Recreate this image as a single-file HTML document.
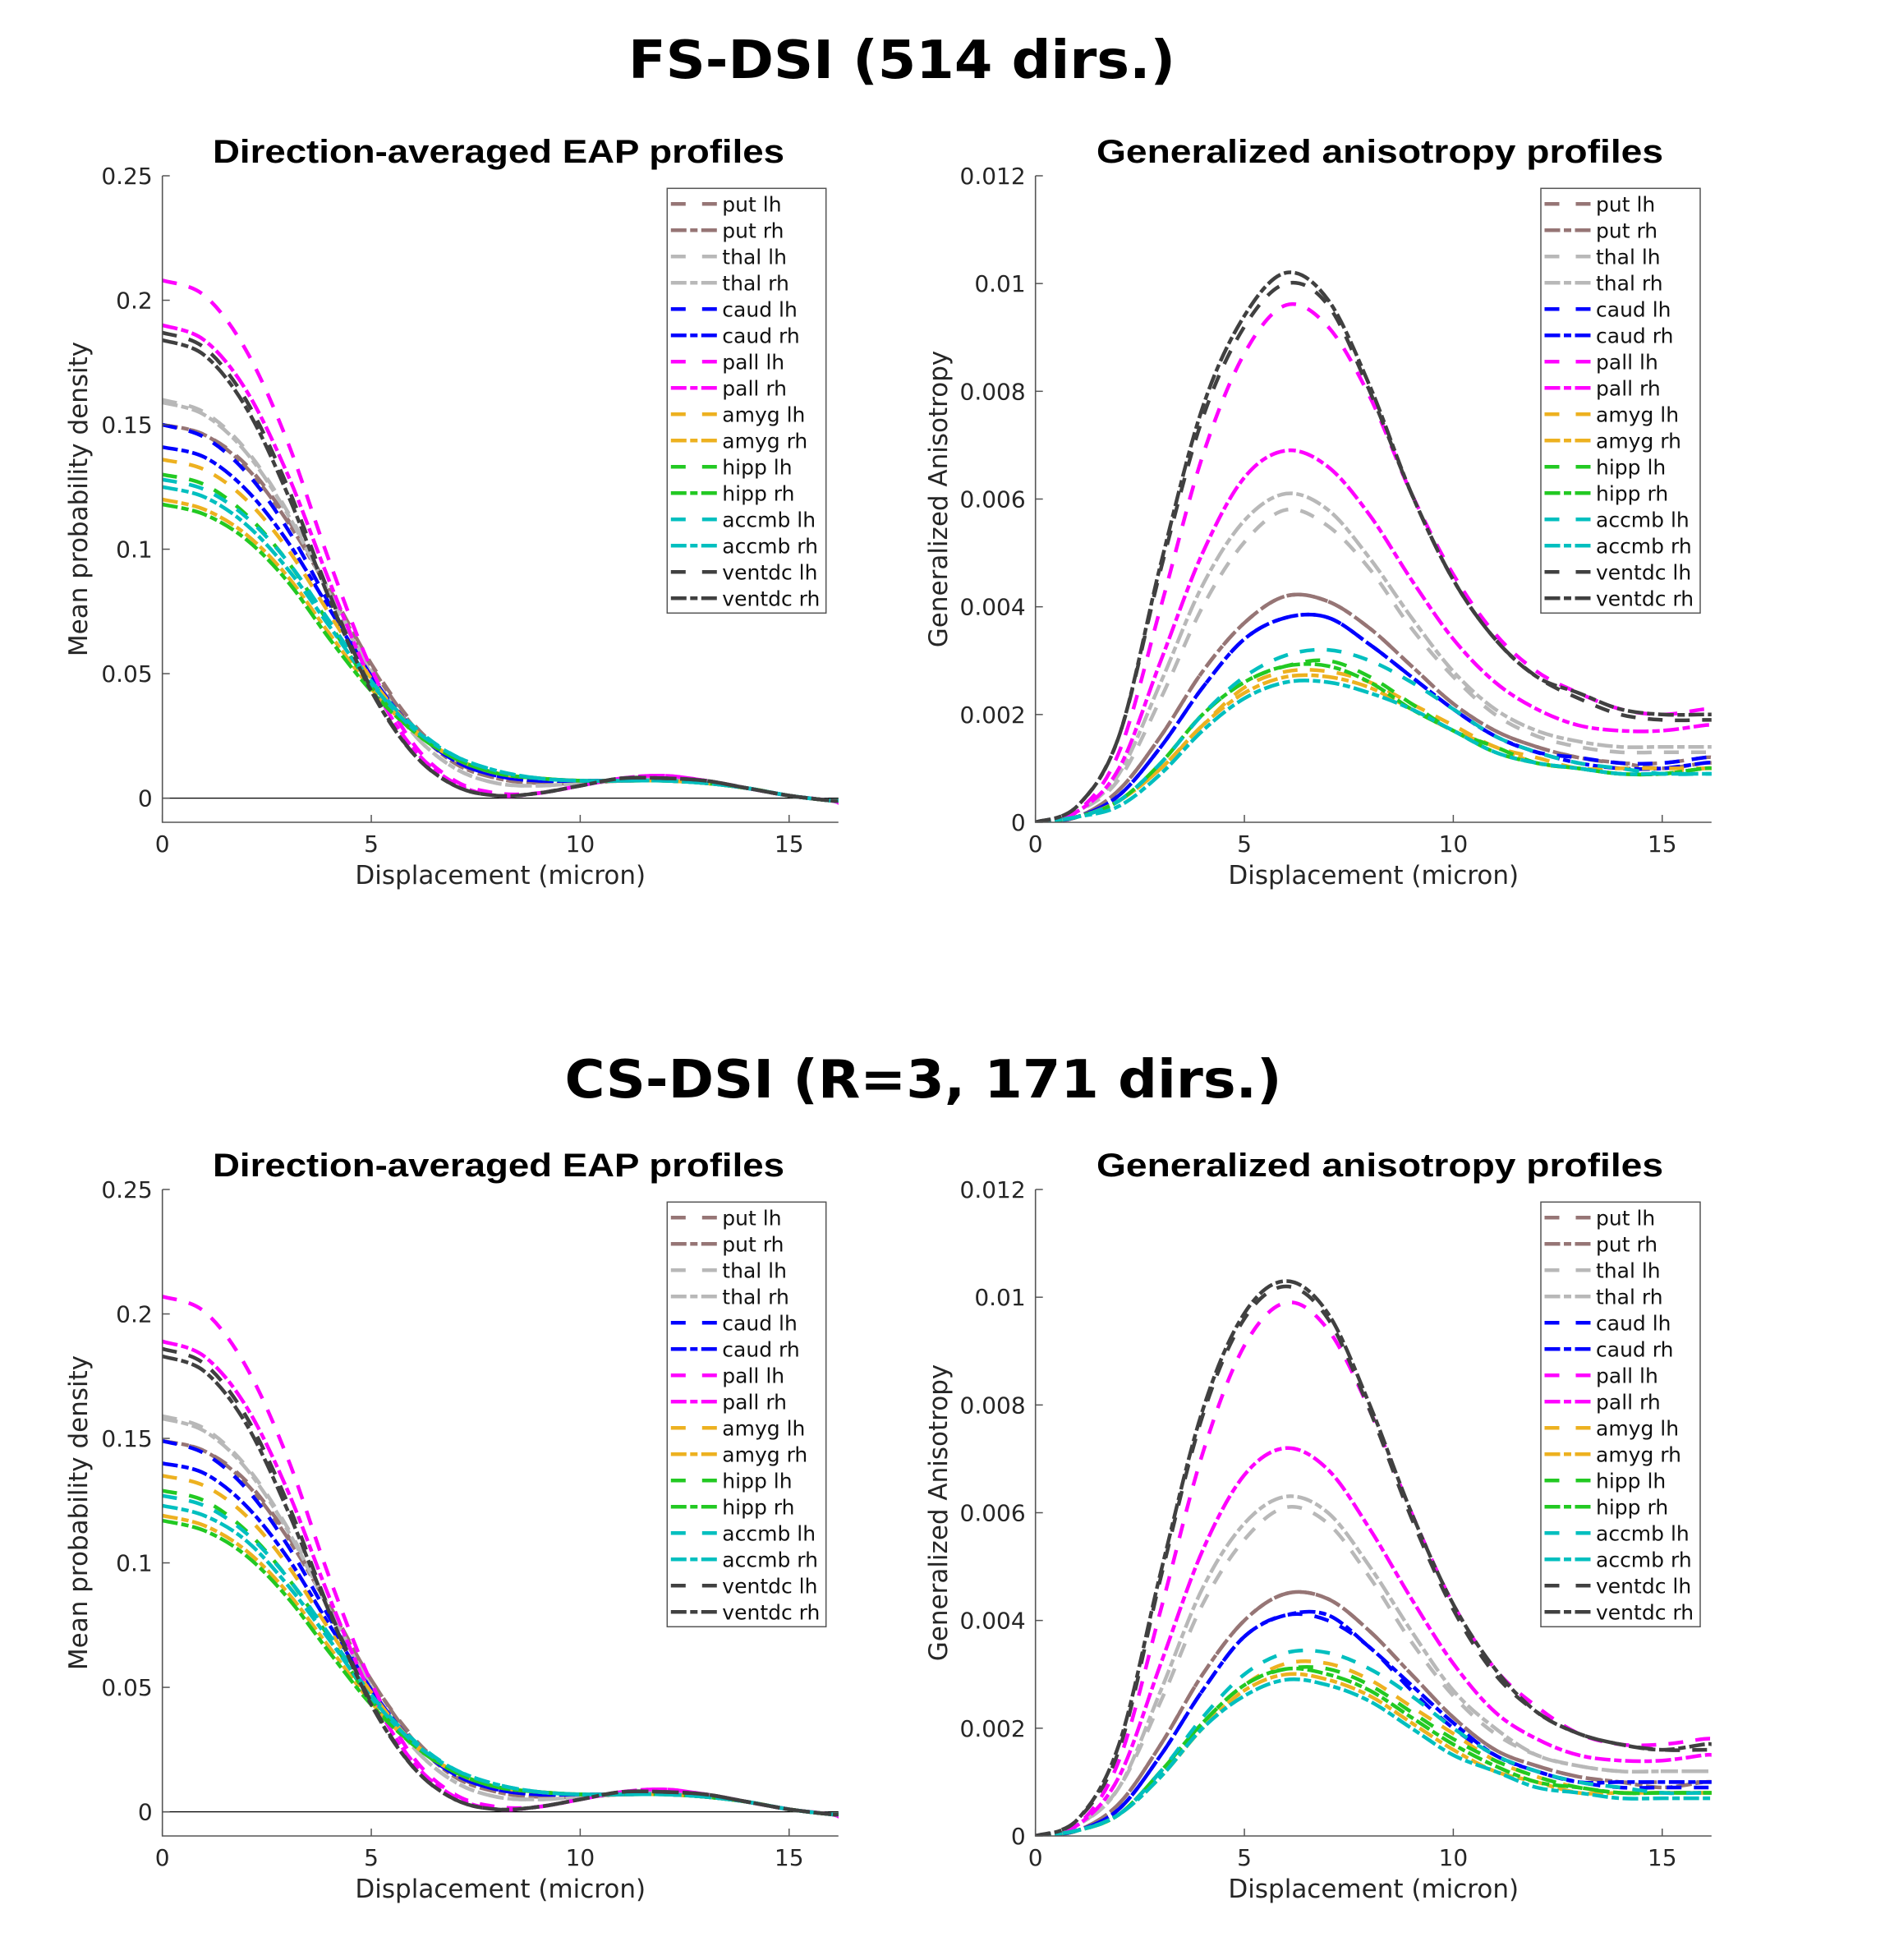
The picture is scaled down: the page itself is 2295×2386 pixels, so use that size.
<!DOCTYPE html>
<html><head><meta charset="utf-8"><style>
html,body{margin:0;padding:0;background:#fff;}
svg{display:block;}
text{font-family:"DejaVu Sans","Liberation Sans",sans-serif;}
</style></head><body>
<svg id="fig" width="2295" height="2386" viewBox="0 0 2295 2386" xmlns="http://www.w3.org/2000/svg">
<rect width="2295" height="2386" fill="#fff"/>
<text x="1098" y="95" text-anchor="middle" font-size="64" font-weight="bold" style="font-family:'DejaVu Sans',sans-serif" textLength="666" lengthAdjust="spacingAndGlyphs">FS-DSI (514 dirs.)</text>
<text x="1124" y="1336" text-anchor="middle" font-size="64" font-weight="bold" style="font-family:'DejaVu Sans',sans-serif" textLength="873" lengthAdjust="spacingAndGlyphs">CS-DSI (R=3, 171 dirs.)</text>
</svg>
<script>
const xs = [0,1,2,3,4,5,6,7,8,9,10,11,12,13,14,15,16,16.2];
const seriesNames = ["put lh","put rh","thal lh","thal rh","caud lh","caud rh","pall lh","pall rh","amyg lh","amyg rh","hipp lh","hipp rh","accmb lh","accmb rh","ventdc lh","ventdc rh"];
const eapTicksY = [0,0.05,0.1,0.15,0.2,0.25];
const eapTickLabels = ["0","0.05","0.1","0.15","0.2","0.25"];
const gaTicksY = [0,0.002,0.004,0.006,0.008,0.01,0.012];
const gaTickLabels = ["0","0.002","0.004","0.006","0.008","0.01","0.012"];
const xTicks = [0,5,10,15];
const xTickLabels = ["0","5","10","15"];

const eapTop = [
[.150,.146,.134,.112,.084,.054,.030,.015,.008,.006,.006,.007,.008,.007,.004,.001,-.001,-.001],
[.150,.146,.133,.111,.083,.053,.029,.014,.008,.006,.006,.007,.008,.007,.004,.001,-.001,-.001],
[.160,.155,.140,.115,.083,.051,.026,.012,.006,.005,.006,.007,.008,.007,.004,.001,-.001,-.001],
[.159,.154,.139,.114,.082,.050,.026,.012,.006,.005,.006,.007,.008,.007,.004,.001,-.001,-.001],
[.150,.145,.131,.108,.078,.049,.028,.015,.009,.007,.007,.007,.007,.006,.004,.001,-.001,-.001],
[.141,.137,.124,.103,.076,.049,.028,.015,.009,.007,.007,.007,.007,.006,.004,.001,-.001,-.001],
[.208,.202,.180,.143,.095,.052,.022,.007,.002,.002,.005,.008,.009,.007,.004,.001,-.001,-.002],
[.190,.184,.164,.130,.087,.047,.020,.006,.001,.002,.005,.008,.009,.007,.004,.001,-.001,-.002],
[.136,.132,.120,.100,.074,.048,.028,.016,.010,.008,.007,.007,.007,.006,.004,.001,-.001,-.001],
[.120,.116,.106,.089,.066,.044,.027,.016,.010,.008,.007,.007,.007,.006,.004,.001,-.001,-.001],
[.130,.126,.114,.095,.070,.045,.027,.016,.010,.008,.007,.007,.007,.006,.004,.001,-.001,-.001],
[.118,.114,.104,.087,.064,.043,.027,.016,.010,.008,.007,.007,.007,.006,.004,.001,-.001,-.001],
[.128,.124,.113,.095,.071,.047,.029,.017,.011,.008,.007,.007,.007,.006,.004,.001,-.001,-.001],
[.125,.121,.110,.092,.069,.046,.028,.017,.011,.008,.007,.007,.007,.006,.004,.001,-.001,-.001],
[.187,.181,.160,.125,.082,.044,.018,.005,.001,.002,.005,.008,.008,.007,.004,.001,-.001,-.001],
[.184,.178,.157,.122,.080,.043,.018,.005,.001,.002,.005,.008,.008,.007,.004,.001,-.001,-.001]
];
const eapBottom = [
[.149,.145,.133,.111,.083,.053,.030,.015,.008,.006,.006,.007,.008,.007,.004,.001,-.001,-.001],
[.149,.145,.132,.110,.082,.053,.029,.014,.008,.006,.006,.007,.008,.007,.004,.001,-.001,-.001],
[.159,.154,.139,.114,.082,.050,.026,.012,.006,.005,.006,.007,.008,.007,.004,.001,-.001,-.001],
[.158,.153,.138,.113,.081,.050,.026,.012,.006,.005,.006,.007,.008,.007,.004,.001,-.001,-.001],
[.149,.144,.130,.107,.078,.049,.028,.015,.009,.007,.007,.007,.007,.006,.004,.001,-.001,-.001],
[.140,.136,.123,.102,.075,.049,.028,.015,.009,.007,.007,.007,.007,.006,.004,.001,-.001,-.001],
[.207,.201,.179,.142,.094,.052,.022,.007,.002,.002,.005,.008,.009,.007,.004,.001,-.001,-.002],
[.189,.183,.163,.129,.086,.047,.020,.006,.001,.002,.005,.008,.009,.007,.004,.001,-.001,-.002],
[.135,.131,.119,.099,.073,.048,.028,.016,.010,.008,.007,.007,.007,.006,.004,.001,-.001,-.001],
[.119,.115,.105,.088,.066,.044,.027,.016,.010,.008,.007,.007,.007,.006,.004,.001,-.001,-.001],
[.129,.125,.113,.094,.070,.045,.027,.016,.010,.008,.007,.007,.007,.006,.004,.001,-.001,-.001],
[.117,.113,.103,.086,.064,.043,.027,.016,.010,.008,.007,.007,.007,.006,.004,.001,-.001,-.001],
[.127,.123,.112,.094,.071,.047,.029,.017,.011,.008,.007,.007,.007,.006,.004,.001,-.001,-.001],
[.123,.119,.109,.091,.069,.046,.028,.017,.011,.008,.007,.007,.007,.006,.004,.001,-.001,-.001],
[.186,.180,.159,.124,.081,.044,.018,.005,.001,.002,.005,.008,.008,.007,.004,.001,-.001,-.001],
[.183,.177,.156,.121,.080,.043,.018,.005,.001,.002,.005,.008,.008,.007,.004,.001,-.001,-.001]
];
const gaTop = [
[0,.0001,.0006,.0016,.0028,.0037,.0042,.0041,.0036,.0029,.0022,.0017,.0014,.0012,.0011,.0011,.0012,.0012],
[0,.0001,.0006,.0016,.0028,.0037,.0042,.0041,.0036,.0029,.0022,.0017,.0014,.0012,.0011,.0010,.0011,.0011],
[0,.0002,.0008,.0023,.0040,.0052,.0058,.0055,.0047,.0036,.0027,.0020,.0016,.0014,.0013,.0013,.0013,.0013],
[0,.0002,.0009,.0026,.0044,.0056,.0061,.0058,.0049,.0038,.0028,.0021,.0017,.0015,.0014,.0014,.0014,.0014],
[0,.0001,.0005,.0014,.0025,.0034,.0038,.0038,.0033,.0027,.0021,.0016,.0013,.0012,.0011,.0011,.0012,.0012],
[0,.0001,.0005,.0014,.0025,.0034,.0038,.0038,.0033,.0027,.0021,.0016,.0013,.0011,.0010,.0010,.0011,.0011],
[0,.0002,.0013,.0040,.0068,.0087,.0096,.0092,.0079,.0061,.0046,.0035,.0028,.0024,.0021,.0020,.0021,.0021],
[0,.0002,.0010,.0030,.0050,.0064,.0069,.0066,.0057,.0045,.0034,.0026,.0021,.0018,.0017,.0017,.0018,.0018],
[0,.0001,.0004,.0010,.0018,.0025,.0028,.0028,.0026,.0022,.0018,.0014,.0012,.0010,.0010,.0010,.0010,.0010],
[0,.0001,.0004,.0010,.0018,.0024,.0027,.0027,.0025,.0021,.0017,.0014,.0011,.0010,.0009,.0009,.0010,.0010],
[0,.0001,.0004,.0011,.0020,.0026,.0029,.0030,.0027,.0022,.0017,.0014,.0011,.0010,.0009,.0009,.0010,.0010],
[0,.0001,.0004,.0011,.0020,.0026,.0029,.0029,.0026,.0021,.0017,.0013,.0011,.0010,.0009,.0009,.0010,.0010],
[0,.0001,.0004,.0011,.0020,.0027,.0031,.0032,.0030,.0026,.0021,.0016,.0013,.0011,.0010,.0009,.0009,.0009],
[0,.0001,.0003,.0009,.0017,.0023,.0026,.0026,.0024,.0021,.0017,.0013,.0011,.0010,.0009,.0009,.0009,.0009],
[0,.0003,.0016,.0047,.0075,.0092,.0100,.0096,.0080,.0061,.0045,.0034,.0027,.0023,.0020,.0019,.0019,.0019],
[0,.0003,.0016,.0048,.0077,.0094,.0102,.0097,.0081,.0061,.0045,.0034,.0027,.0024,.0021,.0020,.0020,.0020]
];
const gaBottom = [
[0,.0001,.0006,.0017,.0030,.0040,.0045,.0044,.0038,.0030,.0022,.0016,.0013,.0011,.0010,.0010,.0010,.0010],
[0,.0001,.0006,.0017,.0030,.0040,.0045,.0044,.0038,.0030,.0022,.0016,.0013,.0011,.0010,.0009,.0010,.0010],
[0,.0002,.0009,.0025,.0043,.0055,.0061,.0058,.0048,.0036,.0026,.0019,.0015,.0013,.0012,.0012,.0012,.0012],
[0,.0002,.0009,.0027,.0046,.0058,.0063,.0060,.0050,.0038,.0027,.0020,.0015,.0013,.0012,.0012,.0012,.0012],
[0,.0001,.0005,.0015,.0027,.0037,.0041,.0040,.0035,.0027,.0020,.0015,.0012,.0010,.0009,.0009,.0009,.0009],
[0,.0001,.0005,.0015,.0027,.0037,.0041,.0041,.0035,.0028,.0021,.0015,.0012,.0010,.0010,.0010,.0010,.0010],
[0,.0002,.0014,.0042,.0071,.0091,.0099,.0094,.0079,.0060,.0043,.0031,.0024,.0019,.0017,.0017,.0018,.0018],
[0,.0002,.0011,.0032,.0053,.0067,.0072,.0068,.0057,.0044,.0032,.0023,.0018,.0015,.0014,.0014,.0015,.0015],
[0,.0001,.0004,.0012,.0021,.0028,.0032,.0032,.0029,.0024,.0019,.0014,.0011,.0009,.0008,.0008,.0008,.0008],
[0,.0001,.0004,.0011,.0020,.0027,.0030,.0029,.0026,.0021,.0016,.0012,.0010,.0008,.0008,.0008,.0008,.0008],
[0,.0001,.0004,.0012,.0021,.0028,.0031,.0031,.0028,.0023,.0018,.0014,.0011,.0009,.0008,.0008,.0008,.0008],
[0,.0001,.0004,.0012,.0021,.0028,.0031,.0030,.0027,.0022,.0017,.0013,.0010,.0009,.0008,.0008,.0008,.0008],
[0,.0001,.0004,.0012,.0022,.0030,.0034,.0034,.0031,.0026,.0020,.0015,.0012,.0010,.0009,.0008,.0008,.0008],
[0,.0001,.0004,.0011,.0020,.0026,.0029,.0028,.0025,.0020,.0015,.0012,.0009,.0008,.0007,.0007,.0007,.0007],
[0,.0003,.0016,.0048,.0078,.0096,.0102,.0096,.0079,.0059,.0042,.0030,.0023,.0019,.0017,.0016,.0016,.0016],
[0,.0003,.0017,.0049,.0079,.0097,.0103,.0097,.0080,.0060,.0043,.0031,.0023,.0019,.0017,.0016,.0017,.0017]
];

const colors = ["#967575","#967575","#b8b8b8","#b8b8b8","#0000ff","#0000ff","#ff00ff","#ff00ff","#edb120","#edb120","#22c922","#22c922","#00bfbf","#00bfbf","#404040","#404040"];
const DASH = "18 15", DASHDOT = "19 4.5 9 4.5";
const NS = "http://www.w3.org/2000/svg";
const svg = document.getElementById('fig');
function mk(tag, attrs, parent){const e=document.createElementNS(NS,tag);for(const k in attrs)e.setAttribute(k,attrs[k]);(parent||svg).appendChild(e);return e;}

function smoothPath(pts){
  let d="M"+pts[0][0].toFixed(1)+","+pts[0][1].toFixed(1);
  for(let i=0;i<pts.length-1;i++){
    const p0=pts[Math.max(0,i-1)],p1=pts[i],p2=pts[i+1],p3=pts[Math.min(pts.length-1,i+2)];
    const c1=[p1[0]+(p2[0]-p0[0])/6,p1[1]+(p2[1]-p0[1])/6];
    const c2=[p2[0]-(p3[0]-p1[0])/6,p2[1]-(p3[1]-p1[1])/6];
    d+=" C"+c1[0].toFixed(1)+","+c1[1].toFixed(1)+" "+c2[0].toFixed(1)+","+c2[1].toFixed(1)+" "+p2[0].toFixed(1)+","+p2[1].toFixed(1);
  }
  return d;
}

let clipId=0;
function panel(o){
  const g=mk('g',{});
  
  
  const xS=v=>o.x0+v*o.xu;
  const yS=v=>o.yb-(v-o.ymin)/(o.ymax-o.ymin)*(o.yb-o.yt);
  const x1=xS(16.18);
  const t=mk('text',{x:o.tcx,y:o.yt-16,'text-anchor':'middle','font-size':40,'font-weight':'bold',style:"font-family:'Liberation Sans',sans-serif",textLength:o.tw,lengthAdjust:'spacingAndGlyphs'},g);
  
  
  t.textContent=o.title;
  if(o.zeroLine){const z=mk('line',{x1:o.x0,x2:x1,y1:yS(0),y2:yS(0),stroke:'#000','stroke-width':1.3},g);
    }
  clipId++;
  const cp=mk('clipPath',{id:'c'+clipId},g);
  mk('rect',{x:o.x0,y:o.yt-10,width:x1-o.x0,height:o.yb-o.yt+10},cp);
  const cg=mk('g',{'clip-path':'url(#c'+clipId+')'},g);
  o.data.forEach((arr,i)=>{
    const pts=arr.map((v,j)=>[xS(xs[j]),yS(v)]);
    const p=mk('path',{d:smoothPath(pts),fill:'none',stroke:colors[i],'stroke-width':4.5,'stroke-dasharray':i%2?DASHDOT:DASH},cg);
    
    
  });
  const ax=mk('path',{d:`M${o.x0},${o.yt} V${o.yb} H${x1}`,fill:'none',stroke:'#555','stroke-width':1.6},g);
  
  o.yticks.forEach((v,i)=>{
    mk('line',{x1:o.x0,x2:o.x0+9,y1:yS(v),y2:yS(v),stroke:'#555','stroke-width':1.5},g);
    const tl=mk('text',{x:o.x0-12,y:yS(v)+10,'text-anchor':'end','font-size':28,fill:'#262626'},g);
    
    tl.textContent=o.ylabels[i];
  });
  xTicks.forEach((v,i)=>{
    mk('line',{x1:xS(v),x2:xS(v),y1:o.yb,y2:o.yb-9,stroke:'#555','stroke-width':1.5},g);
    const tl=mk('text',{x:xS(v),y:o.yb+36,'text-anchor':'middle','font-size':28,fill:'#262626'},g);
    
    tl.textContent=xTickLabels[i];
  });
  const xl=mk('text',{x:(o.x0+x1)/2,y:o.yb+75,'text-anchor':'middle','font-size':31,fill:'#262626'},g);
  
  xl.textContent='Displacement (micron)';
  const ycy=(o.yt+o.yb)/2;
  const yl=mk('text',{x:o.ylx,y:ycy,'text-anchor':'middle','font-size':31,fill:'#262626',transform:`rotate(-90 ${o.ylx} ${ycy})`},g);
  
  yl.textContent=o.ylabel;
  const lg=mk('g',{},g);
  
  mk('rect',{x:o.lx0,y:o.ly0,width:o.lx1-o.lx0,height:517,fill:'#fff',stroke:'#555','stroke-width':1.5},lg);
  seriesNames.forEach((n,i)=>{
    const cy=o.ly0+19+i*32;
    const e=mk('g',{},lg);
    
    mk('line',{x1:o.lx0+4.5,x2:o.lx0+60.5,y1:cy,y2:cy,stroke:colors[i],'stroke-width':4.5,'stroke-dasharray':i%2?"19 4.5 9 4.5":"18 20"},e);
    const tx=mk('text',{x:o.lx0+67,y:cy+9,'font-size':25,fill:'#111'},e);
    tx.textContent=n;
  });
}

const off=1234;
[[0,eapTop,gaTop],[off,eapBottom,gaBottom]].forEach(([dy,eap,ga],k)=>{
  panel({name:k?'bottom-left-eap-panel':'top-left-eap-panel',title:'Direction-averaged EAP profiles',tcx:607,tw:696,
    x0:197.7,xu:50.87,yt:214+dy,yb:1001+dy,ymin:-0.0097,ymax:0.25,data:eap,yticks:eapTicksY,ylabels:eapTickLabels,
    zeroLine:true,ylabel:'Mean probability density',ylx:106,lx0:812.3,lx1:1005.7,ly0:229.3+dy});
  panel({name:k?'bottom-right-ga-panel':'top-right-ga-panel',title:'Generalized anisotropy profiles',tcx:1680,tw:690,
    x0:1260.7,xu:50.87,yt:214+dy,yb:1001+dy,ymin:0,ymax:0.012,data:ga,yticks:gaTicksY,ylabels:gaTickLabels,
    zeroLine:false,ylabel:'Generalized Anisotropy',ylx:1153,lx0:1876,lx1:2070,ly0:229.3+dy});
});
</script>
</body></html>
